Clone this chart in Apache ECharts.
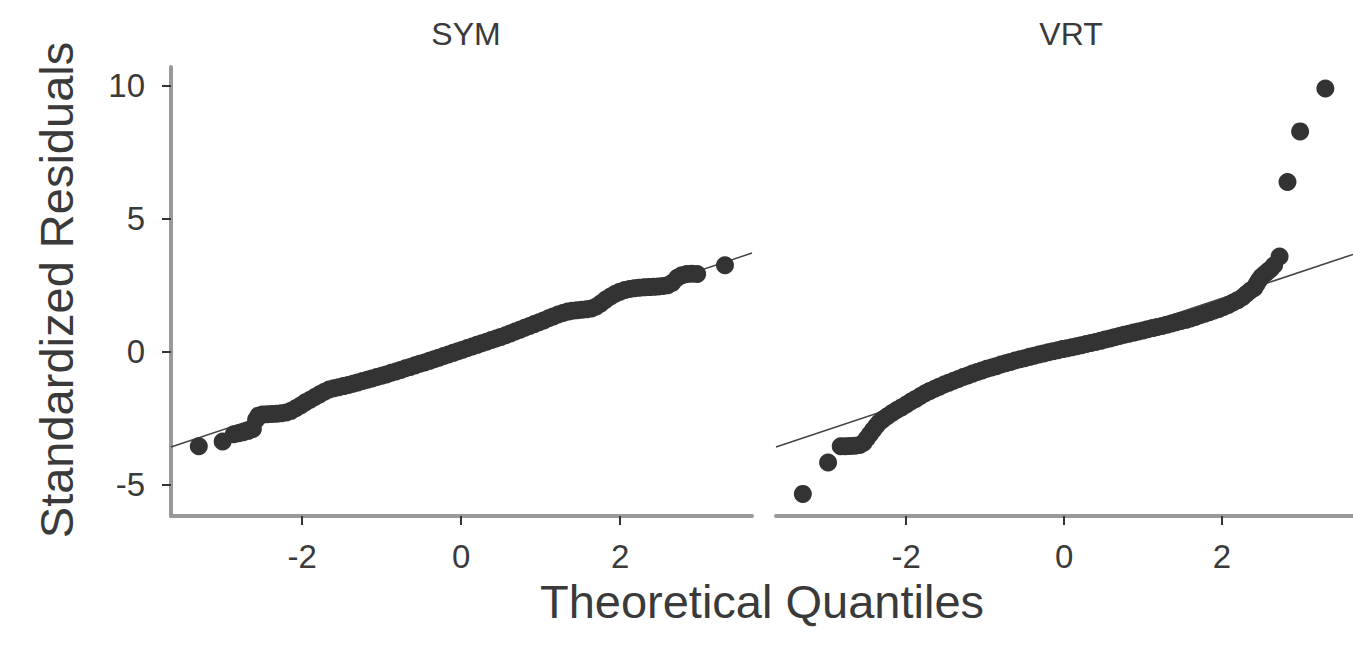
<!DOCTYPE html>
<html>
<head>
<meta charset="utf-8">
<script src="https://cdn.jsdelivr.net/npm/echarts@6/dist/echarts.min.js"></script>
<style>
html,body{margin:0;padding:0;background:#fff;}
#chart{width:1353px;height:649px;}
</style>
</head>
<body>
<div id="chart"></div>
<script>
// Panel titles and axis titles
const panels = ["SYM", "VRT"];
const xTitle = "Theoretical Quantiles";
const yTitle = "Standardized Residuals";
// Tick values
const xTicks = [-2, 0, 2];
const yTicks = [-5, 0, 5, 10];
// Axis extents
const xRange = [-3.65, 3.66];
const yRange = [-6.17, 10.7];

// SYM panel: [theoretical quantile, standardized residual]
const symPoints = [
[-3.30,-3.55],[-3.00,-3.37],[-2.86,-3.10],[-2.80,-3.06],[-2.74,-3.02],[-2.68,-2.97],[-2.62,-2.90],
[-2.58,-2.55],[-2.55,-2.40],[-2.50,-2.36],[-2.44,-2.35],[-2.38,-2.34],[-2.32,-2.33],[-2.26,-2.31],
[-2.20,-2.28],[-2.14,-2.22],[-2.08,-2.12],[-2.02,-2.02],[-1.96,-1.90],[-1.90,-1.80],[-1.84,-1.70],
[-1.78,-1.60],[-1.72,-1.50],[-1.66,-1.42],[-1.60,-1.37],[-1.54,-1.33],[-1.48,-1.29],[-1.42,-1.25],
[-1.36,-1.20],[-1.30,-1.15],[-1.24,-1.10],[-1.18,-1.05],[-1.12,-1.00],[-1.06,-0.95],[-1.00,-0.90],
[-0.94,-0.85],[-0.88,-0.79],[-0.82,-0.74],[-0.76,-0.68],[-0.70,-0.62],[-0.64,-0.57],[-0.58,-0.51],
[-0.52,-0.45],[-0.46,-0.40],[-0.40,-0.34],[-0.34,-0.28],[-0.28,-0.22],[-0.22,-0.16],[-0.16,-0.10],
[-0.10,-0.04],[-0.04,0.02],[0.02,0.08],[0.08,0.14],[0.14,0.20],[0.20,0.26],[0.26,0.32],[0.32,0.38],
[0.38,0.44],[0.44,0.50],[0.50,0.56],[0.56,0.62],[0.62,0.69],[0.68,0.76],[0.74,0.83],[0.80,0.90],
[0.86,0.97],[0.92,1.04],[0.98,1.11],[1.04,1.18],[1.10,1.26],[1.16,1.33],[1.22,1.40],[1.28,1.46],
[1.34,1.51],[1.40,1.54],[1.46,1.56],[1.52,1.58],[1.58,1.60],[1.64,1.63],[1.70,1.70],[1.76,1.82],
[1.82,1.96],[1.88,2.08],[1.94,2.18],[2.00,2.26],[2.06,2.32],[2.12,2.36],[2.18,2.39],[2.24,2.41],
[2.30,2.42],[2.36,2.43],[2.42,2.44],[2.48,2.45],[2.54,2.47],[2.60,2.50],[2.66,2.60],[2.72,2.78],
[2.78,2.88],[2.84,2.92],[2.90,2.93],[2.97,2.92],[3.32,3.25]
];
// VRT panel
const vrtPoints = [
[-3.31,-5.34],[-2.99,-4.16],[-2.83,-3.55],[-2.77,-3.55],[-2.71,-3.54],[-2.65,-3.53],[-2.59,-3.50],
[-2.54,-3.42],[-2.50,-3.26],[-2.46,-3.10],[-2.42,-2.94],[-2.38,-2.79],[-2.34,-2.65],[-2.29,-2.53],
[-2.24,-2.42],[-2.18,-2.30],[-2.12,-2.19],[-2.06,-2.09],[-2.00,-1.98],[-1.94,-1.87],[-1.88,-1.77],
[-1.82,-1.66],[-1.76,-1.56],[-1.70,-1.47],[-1.64,-1.39],[-1.58,-1.31],[-1.52,-1.23],[-1.46,-1.16],
[-1.40,-1.09],[-1.34,-1.02],[-1.28,-0.95],[-1.22,-0.89],[-1.16,-0.82],[-1.10,-0.76],[-1.04,-0.70],
[-0.98,-0.64],[-0.92,-0.59],[-0.86,-0.54],[-0.80,-0.48],[-0.74,-0.43],[-0.68,-0.38],[-0.62,-0.33],
[-0.56,-0.28],[-0.50,-0.24],[-0.44,-0.19],[-0.38,-0.15],[-0.32,-0.10],[-0.26,-0.06],[-0.20,-0.02],
[-0.14,0.02],[-0.08,0.06],[-0.02,0.10],[0.04,0.13],[0.10,0.17],[0.16,0.21],[0.22,0.25],[0.28,0.29],
[0.34,0.33],[0.40,0.37],[0.46,0.41],[0.52,0.46],[0.58,0.50],[0.64,0.55],[0.70,0.59],[0.76,0.64],
[0.82,0.68],[0.88,0.72],[0.94,0.76],[1.00,0.80],[1.06,0.85],[1.12,0.89],[1.18,0.93],[1.24,0.97],
[1.30,1.02],[1.36,1.06],[1.42,1.11],[1.48,1.16],[1.54,1.20],[1.60,1.25],[1.66,1.31],[1.72,1.37],
[1.78,1.43],[1.84,1.49],[1.90,1.55],[1.96,1.61],[2.02,1.68],[2.08,1.76],[2.14,1.85],[2.20,1.94],
[2.26,2.05],[2.31,2.18],[2.36,2.30],[2.41,2.40],[2.44,2.55],[2.47,2.70],[2.50,2.82],[2.54,2.92],
[2.58,3.02],[2.62,3.12],[2.66,3.25],[2.73,3.58],[2.83,6.38],[2.99,8.28],[3.31,9.89]
];
// Reference lines (end points)
const symLine = [[-3.65,-3.58],[3.66,3.71]];
const vrtLine = [[-3.65,-3.58],[3.66,3.66]];

const FONT = '"Liberation Sans", Arial, sans-serif';
const TXT = '#3a3a3a';
const AXIS = '#999';
const DOT = '#333';

function xAxis(gridIndex) {
  return {
    type: 'value', gridIndex, min: xRange[0], max: xRange[1],
    axisLine: {show: true, onZero: false, lineStyle: {color: AXIS, width: 4}},
    axisTick: {show: true, length: 9, lineStyle: {color: '#333', width: 2}, customValues: xTicks},
    axisLabel: {show: true, customValues: xTicks, margin: 24, fontSize: 33, color: TXT, fontFamily: FONT},
    splitLine: {show: false}
  };
}
function yAxis(gridIndex, show) {
  return {
    type: 'value', gridIndex, min: yRange[0], max: yRange[1],
    axisLine: {show: show, onZero: false, lineStyle: {color: AXIS, width: 4}},
    axisTick: {show: show, length: 9, lineStyle: {color: '#333', width: 2}, customValues: yTicks},
    axisLabel: {show: show, customValues: yTicks, margin: 26, fontSize: 33, color: TXT, fontFamily: FONT},
    splitLine: {show: false}
  };
}

const chart = echarts.init(document.getElementById('chart'), null, {renderer: 'svg'});
chart.setOption({
  animation: false,
  backgroundColor: '#fff',
  grid: [
    {left: 171, top: 67, width: 581, height: 449},
    {left: 776, top: 67, width: 581, height: 449}
  ],
  xAxis: [xAxis(0), xAxis(1)],
  yAxis: [yAxis(0, true), yAxis(1, false)],
  graphic: [
    {type: 'text', x: 466, y: 34, style: {text: panels[0], fontSize: 32, fontFamily: FONT, fill: TXT, align: 'center', verticalAlign: 'middle'}},
    {type: 'text', x: 1071, y: 34, style: {text: panels[1], fontSize: 32, fontFamily: FONT, fill: TXT, align: 'center', verticalAlign: 'middle'}},
    {type: 'text', x: 762, y: 601, style: {text: xTitle, fontSize: 47, fontFamily: FONT, fill: TXT, align: 'center', verticalAlign: 'middle'}},
    {type: 'text', x: 56, y: 290, rotation: Math.PI / 2, style: {text: yTitle, fontSize: 47, fontFamily: FONT, fill: TXT, align: 'center', verticalAlign: 'middle'}}
  ],
  series: [
    {type: 'line', xAxisIndex: 0, yAxisIndex: 0, data: symLine, symbol: 'none', lineStyle: {color: '#444', width: 1.5}, z: 1, silent: true},
    {type: 'line', xAxisIndex: 1, yAxisIndex: 1, data: vrtLine, symbol: 'none', lineStyle: {color: '#444', width: 1.5}, z: 1, silent: true},
    {type: 'scatter', xAxisIndex: 0, yAxisIndex: 0, data: symPoints, symbolSize: 18, itemStyle: {color: DOT, opacity: 1}, z: 2},
    {type: 'scatter', xAxisIndex: 1, yAxisIndex: 1, data: vrtPoints, symbolSize: 18, itemStyle: {color: DOT, opacity: 1}, z: 2}
  ]
});
</script>
</body>
</html>
